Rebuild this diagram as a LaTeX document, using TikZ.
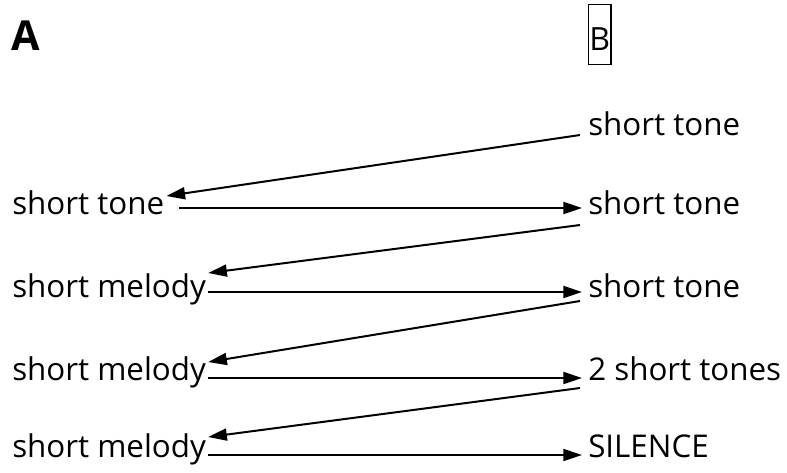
\documentclass[tikz,border=0pt]{standalone}
\usepackage{fontspec}
\setmainfont{Open Sans}
\usetikzlibrary{arrows.meta}

\begin{document}
\begin{tikzpicture}[x=0.75pt,y=-0.75pt,
  lbl/.style={inner sep=0pt,anchor=base west,font=\fontsize{23.5}{28}\selectfont},
  link/.style={line width=1.5pt,-{Triangle[length=14pt,width=9pt]}}]
\useasboundingbox (0,0) rectangle (787,472);
% the two column headers
\node[anchor=base west,inner sep=0pt,font=\fontsize{31}{36}\selectfont\bfseries] (A) at (11,50) {A};
\node[draw,line width=1.1pt,anchor=base west,inner xsep=0.5pt,inner ysep=0pt,
  text height=34pt,text depth=11pt,font=\fontsize{24}{28}\selectfont] (B) at (588,50) {B};
% right column
\foreach \n/\y/\texto in {0/135/short tone,1/214/short tone,2/297/short tone,3/380/2 short tones,4/457/SILENCE}
  \node[lbl] (r\n) at (588,\y) {\texto};
% left column
\foreach \n/\y/\texto in {1/214/short tone,2/297/short melody,3/380/short melody,4/457/short melody}
  \node[lbl] (l\n) at (12,\y) {\texto};
% the slanted arrows, right to left
\foreach \a/\b/\sy/\ty in {0/1/0/-18,1/2/11/-24,2/3/4/-18,3/4/8/-20}
  \draw[link] ([shift={(-8,\sy)}]r\a.base west) -- ([shift={(2,\ty)}]l\b.base east);
% the straight arrows, left to right
\foreach \n/\gx/\hy in {1/15/-6,2/2/-5,3/2/-2,4/2/-2}
  \draw[link] ([shift={(\gx,\hy)}]l\n.base east) -- ([shift={(-6,\hy)}]r\n.base west);
\end{tikzpicture}
\end{document}
